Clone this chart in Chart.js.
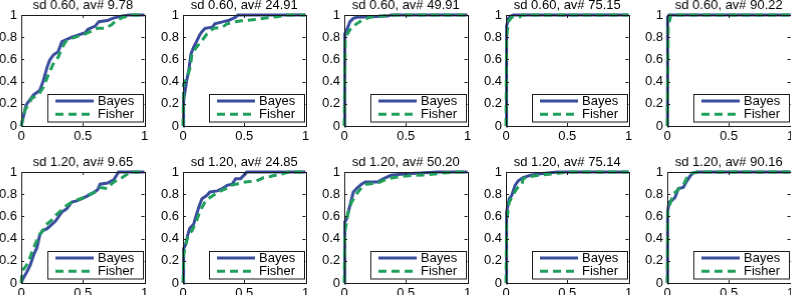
<!DOCTYPE html>
<html><head><meta charset="utf-8">
<script src="https://cdn.jsdelivr.net/npm/chart.js@4/dist/chart.umd.min.js"></script>
<style>
html,body{margin:0;padding:0;background:#fff;overflow:hidden;}
#wrap{position:relative;width:791px;height:295px;overflow:hidden;background:#fff;}
.cell{position:absolute;}
</style></head>
<body><div id="wrap"></div>
<script>
// ---- data ----
const titles = ['sd 0.60, av# 9.78','sd 0.60, av# 24.91','sd 0.60, av# 49.91','sd 0.60, av# 75.15','sd 0.60, av# 90.22',
                'sd 1.20, av# 9.65','sd 1.20, av# 24.85','sd 1.20, av# 50.20','sd 1.20, av# 75.14','sd 1.20, av# 90.16'];
const seriesNames = ['Bayes','Fisher'];
const xTicks = [0, 0.5, 1];
const yTicks = [0, 0.2, 0.4, 0.6, 0.8, 1];

const p1_bx = [0,0.04,0.10,0.15,0.18,0.21,0.23,0.26,0.30,0.33,0.41,0.52,0.54,0.60,0.63,0.70,0.74,0.81,0.875,1];
const p1_by = [0,0.19,0.28,0.32,0.41,0.53,0.59,0.64,0.67,0.76,0.80,0.84,0.87,0.90,0.94,0.95,0.97,0.99,1,1];
const p1_fx = [0,0.03,0.087,0.14,0.18,0.22,0.26,0.30,0.33,0.36,0.41,0.52,0.62,0.68,0.73,0.77,0.83,0.90,1];
const p1_fy = [0,0.14,0.25,0.28,0.35,0.46,0.56,0.62,0.70,0.76,0.79,0.83,0.88,0.88,0.91,0.95,0.98,1,1];

const p2_bx = [0,0.005,0.03,0.046,0.065,0.087,0.11,0.136,0.155,0.18,0.24,0.26,0.33,0.37,0.43,0.45,1];
const p2_by = [0,0.23,0.41,0.49,0.65,0.71,0.76,0.82,0.85,0.88,0.89,0.92,0.94,0.95,0.98,1,1];
const p2_fx = [0,0.005,0.03,0.06,0.073,0.11,0.155,0.196,0.25,0.32,0.36,0.43,0.49,0.60,0.71,0.77,0.85,1];
const p2_fy = [0,0.38,0.43,0.53,0.65,0.71,0.77,0.83,0.88,0.89,0.92,0.94,0.95,0.96,0.98,0.985,1,1];

const p3_bx = [0,0.005,0.02,0.047,0.074,0.1,0.35,0.38,1];
const p3_by = [0,0.83,0.865,0.94,0.97,0.98,0.99,1,1];
const p3_fx = [0,0.008,0.025,0.06,0.1,0.14,0.21,0.25,0.35,0.43,1];
const p3_fy = [0,0.77,0.83,0.89,0.92,0.95,0.98,0.985,0.995,1,1];

const p4_bx = [0,0.005,0.02,0.04,0.06,1];
const p4_by = [0,0.9,0.97,0.99,1,1];
const p4_fx = [0,0.005,0.02,0.047,0.115,0.13,1];
const p4_fy = [0,0.8,0.94,0.98,0.985,1,1];

const p5_bx = [0,0.003,0.015,1];
const p5_by = [0,0.98,1,1];
const p5_fx = [0,0.008,0.02,0.03,1];
const p5_fy = [0,0.92,0.95,1,1];

const p6_bx = [0,0.02,0.046,0.073,0.1,0.128,0.15,0.17,0.21,0.24,0.28,0.33,0.37,0.41,0.45,0.51,0.58,0.62,0.64,0.70,0.75,0.79,1];
const p6_by = [0,0.05,0.1,0.16,0.25,0.32,0.43,0.47,0.49,0.52,0.56,0.64,0.67,0.73,0.74,0.77,0.81,0.84,0.89,0.9,0.93,1,1];
const p6_fx = [0,0.008,0.03,0.06,0.087,0.114,0.15,0.17,0.196,0.24,0.28,0.32,0.37,0.43,0.51,0.56,0.62,0.64,0.70,0.74,0.78,0.82,0.86,0.875,1];
const p6_fy = [0,0.11,0.14,0.19,0.28,0.35,0.44,0.46,0.52,0.56,0.61,0.65,0.70,0.74,0.77,0.80,0.83,0.86,0.85,0.90,0.93,0.95,0.98,1,1];

const p7_bx = [0,0.005,0.02,0.038,0.054,0.087,0.1,0.128,0.155,0.196,0.22,0.28,0.32,0.36,0.40,0.43,0.47,0.51,0.52,1];
const p7_by = [0,0.31,0.34,0.43,0.49,0.53,0.58,0.68,0.76,0.79,0.82,0.83,0.85,0.88,0.89,0.94,0.94,0.985,1,1];
const p7_fx = [0,0.005,0.02,0.046,0.073,0.11,0.14,0.18,0.22,0.29,0.35,0.39,0.43,0.51,0.60,0.66,0.71,0.82,0.86,1];
const p7_fy = [0,0.25,0.34,0.44,0.47,0.56,0.65,0.73,0.77,0.82,0.85,0.88,0.89,0.91,0.92,0.95,0.96,0.985,1,1];

const p8_bx = [0,0.005,0.02,0.047,0.074,0.1,0.14,0.17,0.27,0.32,0.38,0.46,0.51,0.62,0.76,1];
const p8_by = [0,0.55,0.58,0.70,0.82,0.85,0.89,0.91,0.91,0.94,0.97,0.98,0.985,0.99,1,1];
const p8_fx = [0,0.005,0.033,0.06,0.1,0.14,0.18,0.27,0.35,0.43,0.56,0.68,0.79,0.9,1];
const p8_fy = [0,0.46,0.64,0.73,0.8,0.86,0.89,0.9,0.94,0.955,0.97,0.975,0.99,1,1];

const p9_bx = [0,0.005,0.027,0.047,0.074,0.1,0.14,0.2,0.28,0.42,1];
const p9_by = [0,0.64,0.76,0.79,0.88,0.92,0.95,0.97,0.985,1,1];
const p9_fx = [0,0.005,0.027,0.055,0.088,0.115,0.13,0.14,0.2,0.3,0.44,0.5,1];
const p9_fy = [0,0.55,0.73,0.79,0.85,0.88,0.89,0.94,0.96,0.975,0.99,1,1];

const p10_bx = [0,0.003,0.016,0.036,0.063,0.09,0.13,0.16,0.19,0.21,0.24,1];
const p10_by = [0,0.64,0.73,0.74,0.77,0.85,0.86,0.92,0.97,0.99,1,1];
const p10_fx = [0,0.005,0.022,0.05,0.077,0.13,0.16,0.19,0.24,1];
const p10_fy = [0,0.67,0.71,0.8,0.83,0.88,0.95,0.985,1,1];

const curves = [
  [p1_bx,p1_by,p1_fx,p1_fy],[p2_bx,p2_by,p2_fx,p2_fy],[p3_bx,p3_by,p3_fx,p3_fy],[p4_bx,p4_by,p4_fx,p4_fy],[p5_bx,p5_by,p5_fx,p5_fy],
  [p6_bx,p6_by,p6_fx,p6_fy],[p7_bx,p7_by,p7_fx,p7_fy],[p8_bx,p8_by,p8_fx,p8_fy],[p9_bx,p9_by,p9_fx,p9_fy],[p10_bx,p10_by,p10_fx,p10_fy]
];

// ---- layout / style ----
const FONT = "'Liberation Sans', Arial, Helvetica, sans-serif";
const FS = 13;
const BLUE = '#3a4c9c';
const GREEN = '#1f9f5c';
const colLefts = [21, 182.6, 344.2, 505.8, 667.4];
const rowTops = [15, 171.5];
const W = 122.5, H = 111;
const PADL = 34, PADR = 10, PADT = 22, PADB = 22;

function fmt(v){ return String(Math.round(v*10)/10); }

const boxPlugin = {
  id: 'boxPlugin',
  afterDraw(chart, args, opts) {
    const ctx = chart.ctx, a = chart.chartArea;
    const xs = chart.scales.x, ys = chart.scales.y;
    ctx.save();
    ctx.strokeStyle = '#1a1a1a';
    ctx.lineWidth = 1;
    ctx.strokeRect(Math.round(a.left)+0.5, Math.round(a.top)+0.5, Math.round(a.right-a.left), Math.round(a.bottom-a.top));
    const TL = 3;
    ctx.beginPath();
    xTicks.forEach(v => {
      const px = Math.round(xs.getPixelForValue(v))+0.5;
      ctx.moveTo(px, a.bottom); ctx.lineTo(px, a.bottom-TL);
      ctx.moveTo(px, a.top); ctx.lineTo(px, a.top+TL);
    });
    yTicks.forEach(v => {
      const py = Math.round(ys.getPixelForValue(v))+0.5;
      ctx.moveTo(a.left, py); ctx.lineTo(a.left+TL, py);
      ctx.moveTo(a.right, py); ctx.lineTo(a.right-TL, py);
    });
    ctx.stroke();
    ctx.fillStyle = '#000';
    ctx.font = FS + 'px ' + FONT;
    ctx.textAlign = 'center';
    ctx.textBaseline = 'middle';
    ctx.fillText(opts.title, (a.left+a.right)/2, a.top - 10);
    const lw = 95, lh = 27.5;
    const lx = Math.round(a.right - 2 - lw), ly = Math.round(a.bottom - 5 - lh);
    ctx.fillStyle = '#fff';
    ctx.fillRect(lx+0.5, ly+0.5, lw, lh);
    ctx.strokeStyle = '#1a1a1a';
    ctx.strokeRect(lx+0.5, ly+0.5, lw, lh);
    const rows = [
      {name: seriesNames[0], color: BLUE, dash: []},
      {name: seriesNames[1], color: GREEN, dash: [8,5]}
    ];
    rows.forEach((r,i) => {
      const yy = ly + 7 + i*13.3;
      ctx.beginPath();
      ctx.setLineDash(r.dash);
      ctx.strokeStyle = r.color;
      ctx.lineWidth = 3;
      ctx.moveTo(lx+8, yy); ctx.lineTo(lx+46, yy);
      ctx.stroke();
      ctx.setLineDash([]);
      ctx.fillStyle = '#000';
      ctx.textAlign = 'left';
      ctx.textBaseline = 'middle';
      ctx.fillText(r.name, lx+50, yy+0.5);
    });
    ctx.restore();
  }
};

const wrap = document.getElementById('wrap');
curves.forEach((c, i) => {
  const row = Math.floor(i/5), col = i%5;
  const div = document.createElement('div');
  div.className = 'cell';
  const left = colLefts[col] - PADL, top = rowTops[row] - PADT;
  const cw = PADL + W + PADR, ch = PADT + H + PADB;
  div.style.left = left + 'px';
  div.style.top = top + 'px';
  div.style.width = cw + 'px';
  div.style.height = ch + 'px';
  const cv = document.createElement('canvas');
  div.appendChild(cv);
  wrap.appendChild(div);
  const [bx, by, fx, fy] = c;
  new Chart(cv, {
    type: 'line',
    data: {
      datasets: [
        {label: seriesNames[1], data: fx.map((v,k)=>({x:v,y:fy[k]})), borderColor: GREEN, borderWidth: 3,
         borderDash: [8,5], pointRadius: 0, tension: 0, fill: false, clip: 4, order: 0},
        {label: seriesNames[0], data: bx.map((v,k)=>({x:v,y:by[k]})), borderColor: BLUE, borderWidth: 3,
         pointRadius: 0, tension: 0, fill: false, clip: 4, order: 1}
      ]
    },
    options: {
      responsive: true, maintainAspectRatio: false, animation: false,
      devicePixelRatio: 1,
      layout: {padding: {left: 0, top: PADT, right: PADR, bottom: 0}},
      plugins: {legend: {display: false}, tooltip: {enabled: false}, title: {display: false},
                boxPlugin: {title: titles[i]}},
      scales: {
        x: {type: 'linear', min: 0, max: 1,
            afterBuildTicks: s => { s.ticks = xTicks.map(v => ({value: v})); },
            afterFit: s => { s.height = PADB; },
            grid: {display: false, drawTicks: false, tickLength: 0}, border: {display: false},
            ticks: {callback: v => fmt(v), color: '#000', font: {size: FS, family: FONT}, padding: 3, maxRotation: 0, autoSkip: false}},
        y: {type: 'linear', min: 0, max: 1,
            afterBuildTicks: s => { s.ticks = yTicks.map(v => ({value: v})); },
            afterFit: s => { s.width = PADL; },
            grid: {display: false, drawTicks: false, tickLength: 0}, border: {display: false},
            ticks: {callback: v => fmt(v), color: '#000', font: {size: FS, family: FONT}, padding: 4, autoSkip: false}}
      }
    },
    plugins: [boxPlugin]
  });
});
</script></body></html>
